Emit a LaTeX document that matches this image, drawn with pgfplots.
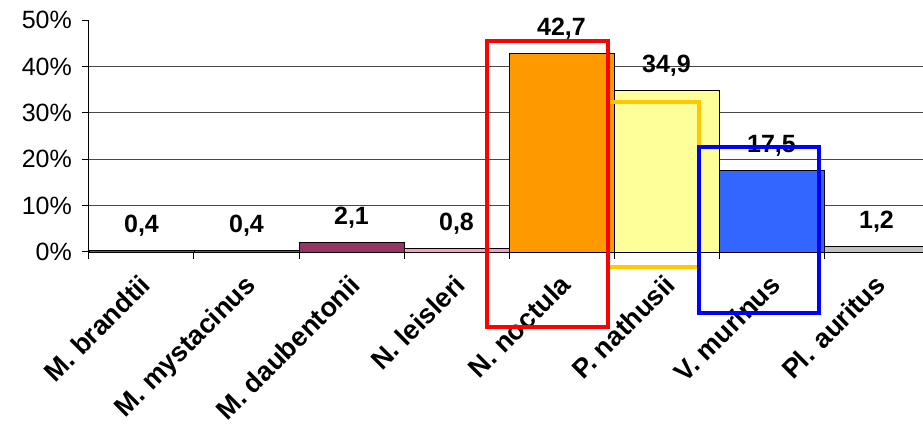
\documentclass[border=0pt]{standalone}
\usepackage{pgfplots}
\pgfplotsset{compat=1.18}
\usepackage{fontspec}
\setmainfont{Liberation Sans}

\definecolor{cDark}{HTML}{5F5F5F}
\definecolor{cPlum}{HTML}{993366}
\definecolor{cPink}{HTML}{FF99CC}
\definecolor{cOrange}{HTML}{FF9900}
\definecolor{cLemon}{HTML}{FFFF99}
\definecolor{cBlue}{HTML}{3366FF}
\definecolor{cSilver}{HTML}{C0C0C0}
\definecolor{boxRed}{HTML}{FF0000}
\definecolor{boxGold}{HTML}{FFC800}
\definecolor{boxBlue}{HTML}{0000FF}

\begin{document}
\begin{tikzpicture}
\path[use as bounding box] (0pt,0pt) rectangle (923pt,428pt);
\clip (0pt,0pt) rectangle (923pt,428pt);
\begin{axis}[
  at={(89pt,176pt)}, anchor=south west,
  scale only axis, width=840pt, height=232pt,
  xmin=-0.5, xmax=7.5, ymin=0, ymax=50,
  clip=false,
  axis x line*=bottom, axis y line*=left,
  axis line style={black, line width=1pt, -},
  tick align=outside, major tick length=7pt,
  tick style={black, line width=1pt},
  /pgf/number format/assume math mode=true,
  ytick={0,10,...,50},
  yticklabel={\pgfmathprintnumber[fixed,precision=0]{\tick}\%},
  yticklabel style={font=\fontsize{25}{30}\selectfont, anchor=east,
                    inner sep=0pt, xshift=-10pt},
  extra y ticks={10,20,30,40}, extra y tick labels={},
  extra y tick style={grid=major, major tick length=0pt},
  major grid style={black!72, line width=1pt},
  xtick={-0.5,0.5,...,7.5},
  x tick label as interval,
  xticklabels={M. brandtii, M. mystacinus, M. daubentonii, N. leisleri,
               N. noctula, P. nathusii, V. murinus, Pl. auritus},
  xticklabel style={font=\fontsize{27}{32}\selectfont\bfseries, rotate=45,
                    anchor=north east, inner sep=0pt, xshift=-12pt, yshift=-7.4pt},
  nodes near coords={\pgfmathprintnumber[fixed,precision=1,zerofill,use comma]{\pgfplotspointmeta}},
  nodes near coords style={font=\fontsize{25}{30}\selectfont\bfseries,
                           anchor=base, inner sep=0pt, yshift=18pt},
  every axis plot/.append style={ybar, bar width=1, bar shift=0pt,
                                 draw=black, line width=0.75pt},
]
\addplot[fill=cDark]   coordinates {(0,0.4)};
\addplot[fill=cDark]   coordinates {(1,0.4)};
\addplot[fill=cPlum]   coordinates {(2,2.1)};
\addplot[fill=cPink]   coordinates {(3,0.8)};
\addplot[fill=cOrange] coordinates {(4,42.7)};
\addplot[fill=cLemon]  coordinates {(5,34.9)};
\addplot[fill=cBlue]   coordinates {(6,17.5)};
\addplot[fill=cSilver] coordinates {(7,1.2)};

% corners of the highlight frames
\coordinate (gA) at (axis cs:4.443,-3.2);
\coordinate (gB) at (axis cs:5.31,32.3);
\coordinate (rA) at (axis cs:3.29,-16.2);
\coordinate (rB) at (axis cs:4.443,45.5);
\coordinate (bA) at (axis cs:5.31,-13.1);
\coordinate (bB) at (axis cs:6.45,22.6);
\end{axis}
\draw[boxGold, line width=4.5pt] (gA) rectangle (gB);
\draw[boxRed,  line width=4.5pt] (rA) rectangle (rB);
\draw[boxBlue, line width=4.5pt] (bA) rectangle (bB);
\end{tikzpicture}
\end{document}
